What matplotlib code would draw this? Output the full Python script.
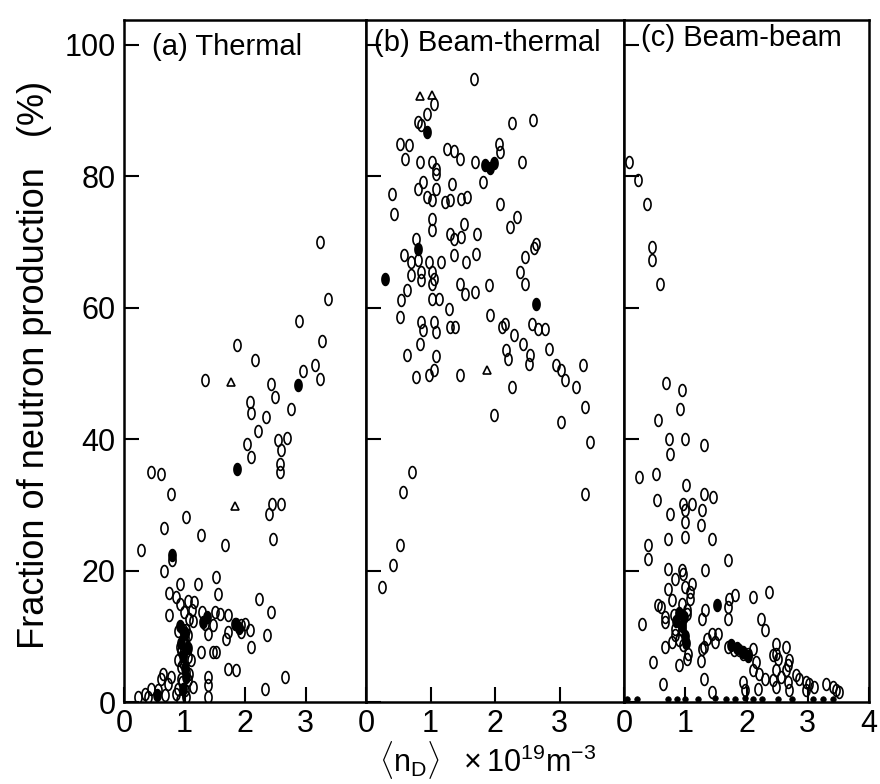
import numpy as np
import matplotlib
matplotlib.use("Agg")
import matplotlib.pyplot as plt
from matplotlib.path import Path

plt.rcParams['font.family'] = ['Liberation Sans', 'DejaVu Sans']
plt.rcParams['mathtext.fontset'] = 'custom'
plt.rcParams['mathtext.rm'] = 'Liberation Sans'
plt.rcParams['mathtext.it'] = 'Liberation Sans:italic'
plt.rcParams['mathtext.bf'] = 'Liberation Sans:bold'

# ---------------- data (density 1e19 m^-3, fraction %) ----------------
panel_titles = ["(a) Thermal", "(b) Beam-thermal", "(c) Beam-beam"]
y_ticks = [0, 20, 40, 60, 80, 100]

thermal_pts = [
    (3.24, 70.0), (3.37, 61.3), (2.89, 58.0), (3.27, 55.0), (1.87, 54.3), (2.17, 52.0),
    (3.16, 51.3), (2.96, 50.4), (3.24, 49.2), (1.34, 49.0), (2.43, 48.4), (2.49, 46.4),
    (2.08, 45.7), (2.10, 44.0), (2.76, 44.6), (2.35, 43.4), (2.21, 41.2), (2.55, 39.9),
    (2.69, 40.2), (2.03, 39.3), (2.10, 37.3), (2.60, 38.4), (2.58, 36.2), (2.58, 35.0),
    (0.45, 35.0), (0.61, 34.7), (0.78, 31.7), (2.45, 30.1), (2.60, 30.1), (2.40, 28.6),
    (1.03, 28.2), (0.66, 26.5), (1.27, 25.4), (2.46, 24.8), (1.67, 23.9), (0.28, 23.1),
    (0.79, 21.6), (0.66, 20.0), (1.52, 19.0), (0.93, 18.0), (1.22, 18.0), (0.74, 16.6),
    (1.55, 16.4), (2.23, 15.7), (0.86, 16.0), (1.06, 15.4), (1.16, 15.2), (0.93, 14.9),
    (2.43, 13.7), (0.74, 13.2), (0.99, 13.7), (1.29, 13.7), (1.50, 13.7), (1.59, 13.4),
    (1.72, 13.2), (1.14, 12.3), (1.34, 11.9), (1.47, 11.7), (1.83, 11.9), (1.93, 11.7),
    (2.00, 11.9), (2.08, 10.9), (1.72, 10.7), (1.93, 10.7), (1.39, 10.4), (2.36, 10.2),
    (1.03, 10.9), (1.06, 10.2), (1.69, 9.6), (0.98, 9.4), (0.93, 8.4), (2.10, 8.4),
    (1.27, 7.6), (1.47, 7.6), (1.52, 7.6), (0.98, 7.3), (1.11, 6.4), (0.89, 6.4),
    (1.72, 5.0), (1.85, 4.9), (0.94, 5.3), (0.64, 4.3), (0.61, 3.5), (0.78, 3.8),
    (1.39, 3.8), (2.66, 3.8), (0.94, 3.5), (1.06, 3.3), (1.14, 2.3), (0.73, 2.7),
    (1.39, 2.6), (0.45, 2.0), (0.56, 1.8), (2.33, 2.0), (0.35, 1.2), (0.23, 0.8),
    (0.68, 1.0), (0.86, 1.2), (1.03, 0.8), (1.39, 0.8), (0.40, 0.8), (0.89, 2.0),
    (1.00, 1.8), (0.93, 0.3), (0.97, 11.0), (1.00, 9.8), (1.02, 8.6), (0.95, 7.8),
    (1.05, 6.8), (0.98, 5.9), (1.02, 4.6), (0.96, 3.0), (1.08, 4.2), (0.90, 10.8),
    (1.08, 12.6), (1.12, 14.0),
]
thermal_tri = [(1.77, 48.7), (1.83, 29.8)]
thermal_filled = [(0.80, 22.3), (1.00, 10.5), (0.98, 7.0), (1.02, 3.8), (1.38, 13.0),
                  (1.85, 11.8), (1.90, 11.2), (2.88, 48.2), (1.87, 35.5), (0.95, 9.0),
                  (1.00, 5.2), (0.97, 2.0), (1.05, 8.2), (0.92, 11.6), (0.55, 1.0),
                  (1.30, 12.2)]

beamth_pts = [
    (1.67, 94.8), (1.06, 91.0), (0.94, 89.5), (0.80, 88.3), (0.86, 87.8), (2.27, 88.1),
    (2.59, 88.6), (0.53, 84.9), (0.67, 84.8), (0.61, 82.6), (1.25, 84.2), (1.36, 83.9),
    (1.45, 82.6), (2.06, 84.9), (2.08, 83.7), (0.84, 82.2), (1.03, 82.2), (1.09, 81.1),
    (1.69, 82.2), (1.81, 79.1), (2.42, 82.2), (1.09, 80.4), (0.41, 77.3), (0.44, 74.3),
    (0.81, 78.1), (0.89, 79.1), (0.94, 76.9), (1.02, 76.4), (1.09, 78.1), (1.30, 76.4),
    (1.34, 78.8), (1.48, 76.6), (1.56, 76.9), (1.23, 76.1), (2.08, 75.8), (2.23, 72.3),
    (2.34, 73.8), (1.02, 73.5), (1.02, 71.8), (1.52, 72.8), (1.48, 70.8), (1.30, 71.2),
    (1.36, 70.5), (1.72, 71.2), (0.77, 70.5), (2.63, 69.7), (0.59, 68.0), (0.70, 67.0),
    (0.81, 67.2), (0.97, 67.0), (1.17, 67.0), (1.36, 68.0), (1.55, 67.0), (1.70, 68.2),
    (2.47, 67.7), (2.60, 69.1), (0.70, 65.0), (0.86, 65.4), (1.02, 65.4), (1.06, 64.4),
    (1.03, 63.6), (0.86, 64.2), (1.45, 63.6), (1.53, 62.1), (1.69, 62.4), (1.90, 63.5),
    (2.39, 65.4), (2.47, 63.6), (0.64, 62.7), (0.55, 61.2), (1.02, 61.3), (1.13, 61.3),
    (1.28, 59.8), (0.52, 58.6), (0.86, 57.8), (0.88, 56.6), (1.06, 57.8), (1.08, 56.3),
    (1.30, 57.1), (1.38, 57.1), (1.92, 58.9), (2.11, 57.1), (2.16, 57.5), (2.30, 55.9),
    (2.44, 54.5), (2.58, 57.5), (2.66, 56.8), (2.77, 56.8), (0.83, 54.5), (0.63, 52.8),
    (1.08, 52.7), (2.17, 53.6), (2.20, 52.2), (2.55, 52.8), (2.53, 51.4), (2.84, 53.7),
    (2.95, 51.3), (3.02, 50.5), (3.08, 49.0), (3.36, 51.3), (3.25, 47.9), (0.77, 49.5),
    (0.98, 49.8), (1.05, 50.5), (1.45, 49.8), (2.27, 47.9), (1.98, 43.7), (3.39, 44.9),
    (3.02, 42.6), (3.48, 39.6), (0.72, 35.0), (0.58, 32.0), (3.39, 31.7), (0.52, 23.9),
    (0.42, 20.8), (0.25, 17.5),
]
beamth_tri = [(0.84, 92.2), (1.02, 92.4), (1.88, 50.5)]
beamth_filled = [(0.94, 86.8), (1.85, 81.8), (1.92, 81.2), (1.98, 82.0), (0.30, 64.4),
                 (2.63, 60.6), (0.80, 69.0)]

beambeam_pts = [
    (0.08, 82.2), (0.23, 79.5), (0.38, 75.8), (0.46, 69.3), (0.46, 67.3), (0.59, 63.6),
    (0.69, 48.6), (0.95, 47.5), (0.92, 44.6), (0.56, 42.9), (0.74, 40.1), (1.00, 40.1),
    (1.31, 39.1), (0.75, 37.8), (0.25, 34.3), (0.52, 34.7), (1.02, 33.1), (1.30, 31.7),
    (1.46, 31.2), (0.54, 30.8), (0.97, 30.2), (1.11, 30.2), (0.75, 28.6), (1.00, 29.2),
    (1.28, 29.2), (1.00, 27.4), (1.25, 27.0), (0.39, 23.9), (0.72, 24.8), (1.00, 25.1),
    (1.43, 24.8), (0.39, 21.8), (1.69, 21.6), (0.72, 20.3), (0.95, 20.1), (1.33, 20.1),
    (0.97, 19.5), (0.84, 18.7), (1.11, 18.0), (1.00, 17.5), (0.72, 17.2), (1.08, 16.8),
    (2.36, 16.8), (2.10, 16.0), (1.82, 16.3), (1.72, 15.7), (0.79, 15.5), (1.08, 15.7),
    (0.56, 14.8), (0.61, 14.5), (1.69, 14.5), (0.95, 14.9), (1.03, 14.0), (1.33, 14.0),
    (0.67, 13.0), (0.82, 13.3), (1.03, 13.4), (1.28, 12.7), (1.69, 12.7), (0.30, 11.9),
    (0.67, 12.2), (0.95, 12.2), (2.23, 12.7), (0.84, 11.1), (0.95, 11.0), (2.31, 11.0),
    (1.44, 10.4), (1.54, 10.4), (1.36, 9.6), (0.84, 10.2), (0.89, 9.4), (0.79, 9.2),
    (1.48, 9.2), (0.67, 8.4), (0.97, 8.7), (1.30, 8.4), (1.70, 8.4), (1.79, 7.9),
    (1.87, 7.9), (1.95, 7.3), (2.03, 7.3), (2.10, 8.1), (2.48, 8.9), (2.64, 8.4),
    (2.48, 7.3), (1.28, 8.1), (1.05, 7.3), (1.03, 6.6), (2.43, 7.2), (1.25, 6.3),
    (0.48, 6.1), (0.89, 5.7), (2.15, 6.1), (2.51, 6.6), (2.69, 6.4), (2.10, 4.9),
    (2.48, 4.9), (2.67, 5.7), (2.20, 4.3), (2.31, 3.5), (2.80, 4.1), (2.64, 4.9),
    (1.30, 3.5), (2.44, 3.4), (2.56, 3.8), (2.85, 3.5), (2.97, 3.1), (3.02, 2.8),
    (0.64, 2.8), (1.95, 3.1), (2.67, 3.1), (3.30, 2.8), (3.10, 2.3), (3.41, 2.3),
    (3.46, 1.8), (2.18, 2.0), (2.48, 2.3), (1.98, 1.8), (2.69, 1.8), (2.97, 1.8),
    (1.44, 1.5), (3.51, 1.5),
]
beambeam_filled = [(1.52, 14.8), (0.90, 13.5), (0.95, 11.5), (1.00, 10.0), (1.85, 8.2),
                   (1.95, 7.6), (0.85, 12.4), (0.98, 12.9), (1.02, 9.0), (1.75, 8.6),
                   (2.02, 7.0)]
beambeam_floor = [(0.05, 0.4), (0.21, 0.4), (0.72, 0.5), (0.87, 0.4), (1.00, 0.5),
                  (1.20, 0.4), (1.49, 0.6), (1.66, 0.4), (1.82, 0.5), (1.98, 0.6),
                  (2.10, 0.4), (2.26, 0.5), (2.52, 0.4), (2.75, 0.5), (3.08, 0.4),
                  (3.25, 0.5), (3.41, 0.4)]

# ---------------- figure ----------------
W, H = 880, 784
fig = plt.figure(figsize=(W / 100, H / 100), dpi=100)

bottom_px, top_px = 702, 20
panel_px = [(124, 366), (366, 624), (624, 869)]
ylim = (0, 103.8)

t = np.linspace(0, 2 * np.pi, 41)
ellipse = Path(np.column_stack([0.6 * np.cos(t), np.sin(t)]), closed=True)

panels = [
    (thermal_pts, thermal_tri, thermal_filled, []),
    (beamth_pts, beamth_tri, beamth_filled, []),
    (beambeam_pts, [], beambeam_filled, beambeam_floor),
]
title_pos = [(0.115, 0.949), (0.03, 0.955), (0.07, 0.962)]

axes = []
for i, ((l, r), (pts, tri, fill, floor)) in enumerate(zip(panel_px, panels)):
    ax = fig.add_axes([l / W, 1 - bottom_px / H, (r - l) / W, (bottom_px - top_px) / H])
    axes.append(ax)
    p = np.array(pts)
    ax.plot(p[:, 0], p[:, 1], ls='none', marker=ellipse, ms=8.5, mfc='none',
            mec='black', mew=1.2)
    if tri:
        q = np.array(tri)
        ax.plot(q[:, 0], q[:, 1], ls='none', marker='^', ms=6, mfc='none',
                mec='black', mew=1.2)
    if fill:
        q = np.array(fill)
        ax.plot(q[:, 0], q[:, 1], ls='none', marker=ellipse, ms=8.5, mfc='black',
                mec='black', mew=1.2)
    if floor:
        q = np.array(floor)
        ax.plot(q[:, 0], q[:, 1], ls='none', marker='o', ms=4, mfc='black',
                mec='black', mew=0.5, clip_on=False)
    ax.set_xlim(0, 4)
    ax.set_ylim(*ylim)
    ax.set_yticks(y_ticks)
    if i < 2:
        ax.set_xticks([0, 1, 2, 3])
    else:
        ax.set_xticks([0, 1, 2, 3, 4])
    ax.tick_params(direction='in', length=11, width=1.5, labelsize=22, pad=5)
    ax.tick_params(axis='y', labelleft=(i == 0), pad=6)
    for s in ax.spines.values():
        s.set_linewidth(1.8)
    ax.text(title_pos[i][0], title_pos[i][1], panel_titles[i], transform=ax.transAxes,
            fontsize=21, ha='left', va='baseline')

fig.text(35 / W, 1 - 365 / H, "Fraction of neutron production   (%)", rotation=90,
         fontsize=26, ha='center', va='center')
fig.text(488 / W, 3 / H,
         r'$\langle \mathrm{n_D} \rangle\ \ \times 10^{19}\mathrm{m}^{-3}$',
         fontsize=22, ha='center', va='bottom')

fig.savefig("out.png", dpi=100)
